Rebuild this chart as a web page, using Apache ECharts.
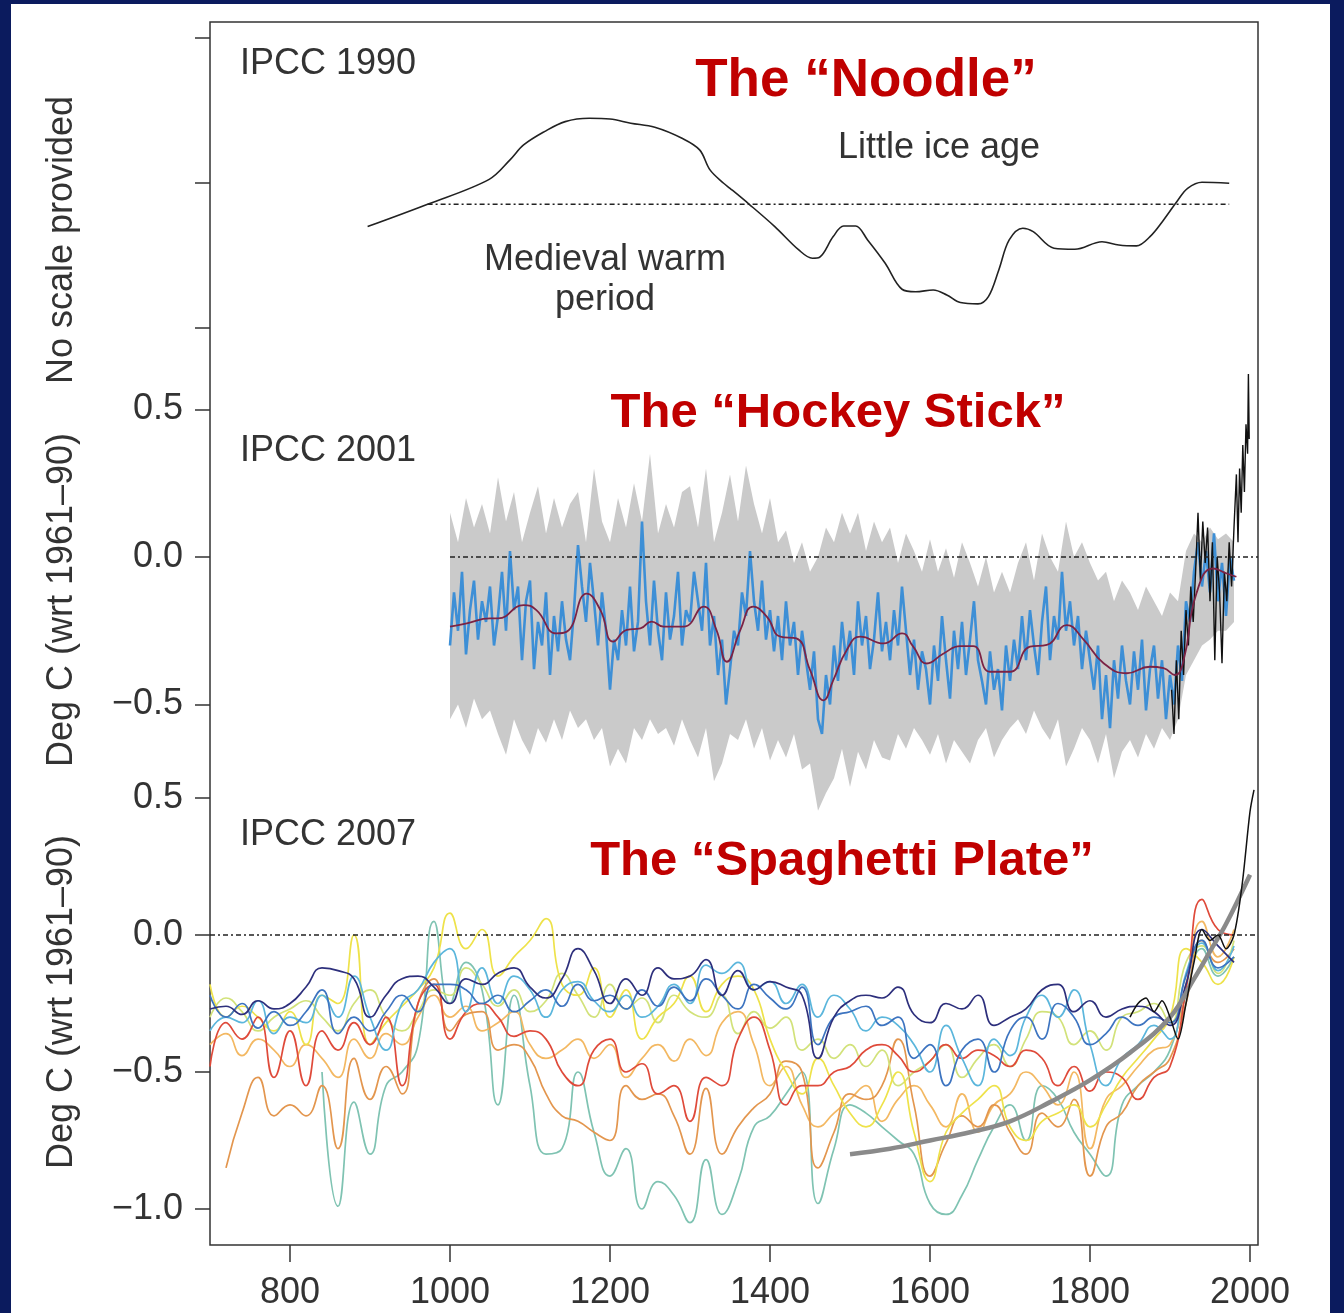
<!DOCTYPE html>
<html><head><meta charset="utf-8">
<script src="https://cdn.jsdelivr.net/npm/echarts@6/dist/echarts.min.js"></script>
<style>html,body{margin:0;padding:0;background:#fff}#c{width:1344px;height:1313px}</style>
</head><body><div id="c"></div>
<script>
// ---------- axis ticks ----------
const xTicks = [800, 1000, 1200, 1400, 1600, 1800, 2000];
const noodleTicks = [-1, 0, 1];
const hockeyTicks = [-0.5, 0, 0.5];
const spagTicks = [-1, -0.5, 0, 0.5];

// ---------- IPCC 1990 "Noodle" (no scale: arbitrary units) ----------
const noodleYears = [897,972,1049,1075,1092,1118,1144,1174,1200,1226,1256,1290,1312,1325,1342,1350,1374,1406,1436,1453,1462,1479,1492,1507,1522,1544,1565,1582,1604,1621,1638,1660,1673,1686,1699,1716,1729,1755,1781,1815,1836,1858,1875,1892,1910,1922,1940,1974];
const noodleValues = [-0.301,-0.147,0.025,0.159,0.262,0.354,0.423,0.446,0.441,0.412,0.384,0.308,0.228,0.090,-0.002,-0.037,-0.147,-0.301,-0.462,-0.519,-0.512,-0.370,-0.297,-0.297,-0.393,-0.554,-0.733,-0.750,-0.738,-0.772,-0.825,-0.834,-0.784,-0.600,-0.393,-0.312,-0.336,-0.450,-0.457,-0.405,-0.428,-0.434,-0.370,-0.255,-0.117,-0.037,0.005,-0.002];
const noodleRefYears = [972, 1974];
const noodleRefLevel = -0.147;

// ---------- IPCC 2001 "Hockey Stick" ----------
const blueStart = 1000, blueStep = 5;
const blueValues = [
 -0.30,-0.12,-0.25,-0.05,-0.33,-0.18,-0.08,-0.28,-0.15,-0.22,
 -0.10,-0.30,-0.20,-0.05,-0.25,0.02,-0.18,-0.10,-0.35,-0.15,
 -0.08,-0.38,-0.22,-0.30,-0.12,-0.40,-0.20,-0.32,-0.15,-0.28,
 -0.35,-0.18,0.04,-0.10,-0.22,-0.02,-0.15,-0.30,-0.12,-0.25,
 -0.45,-0.28,-0.35,-0.18,-0.30,-0.10,-0.32,-0.22,0.12,-0.15,
 -0.30,-0.08,-0.25,-0.35,-0.12,-0.28,-0.20,-0.05,-0.30,-0.18,
 -0.22,-0.05,-0.15,-0.25,-0.02,-0.30,-0.20,-0.40,-0.28,-0.50,
 -0.38,-0.25,-0.30,-0.12,-0.20,0.02,-0.15,-0.25,-0.08,-0.28,
 -0.18,-0.32,-0.20,-0.35,-0.15,-0.30,-0.22,-0.40,-0.25,-0.35,
 -0.45,-0.32,-0.55,-0.60,-0.40,-0.50,-0.30,-0.42,-0.22,-0.35,
 -0.25,-0.40,-0.15,-0.30,-0.20,-0.38,-0.28,-0.12,-0.32,-0.22,
 -0.35,-0.18,-0.30,-0.10,-0.25,-0.40,-0.28,-0.45,-0.32,-0.38,
 -0.50,-0.30,-0.42,-0.20,-0.35,-0.48,-0.25,-0.38,-0.22,-0.40,
 -0.28,-0.15,-0.35,-0.42,-0.50,-0.32,-0.45,-0.38,-0.52,-0.30,
 -0.42,-0.28,-0.38,-0.20,-0.35,-0.18,-0.30,-0.40,-0.22,-0.10,
 -0.35,-0.20,-0.28,-0.05,-0.25,-0.15,-0.30,-0.20,-0.38,-0.25,
 -0.35,-0.45,-0.30,-0.55,-0.40,-0.58,-0.35,-0.48,-0.30,-0.42,
 -0.50,-0.32,-0.45,-0.28,-0.52,-0.38,-0.30,-0.48,-0.35,-0.55,
 -0.40,-0.50,-0.30,-0.42,-0.15,-0.22,-0.05,0.05,-0.10,0.02,
 -0.12,0.08,-0.15,-0.02,-0.20,0.00,-0.08];
const bandStart = 1000, bandStep = 10;
const bandUpper = [
 0.15,0.05,0.20,0.10,0.18,0.08,0.27,0.12,0.22,0.05,
 0.15,0.24,0.08,0.20,0.10,0.18,0.22,0.05,0.30,0.12,
 0.05,0.20,0.10,0.25,0.12,0.35,0.08,0.18,0.10,0.22,
 0.24,0.10,0.30,0.05,0.15,0.28,0.12,0.31,0.18,0.08,
 0.20,0.05,0.09,-0.02,0.05,-0.05,0.00,0.10,0.05,0.15,
 0.08,0.15,0.02,0.12,0.05,0.10,-0.02,0.08,0.02,-0.05,
 0.06,-0.05,0.03,-0.07,0.05,-0.02,-0.10,0.00,-0.12,-0.05,
 -0.12,-0.02,0.05,-0.08,0.08,0.00,-0.05,0.12,0.00,0.05,
 -0.02,-0.08,-0.05,-0.15,-0.08,-0.12,-0.18,-0.10,-0.15,-0.20,
 -0.12,-0.15,0.02,0.08,0.05,0.10,0.06,0.08,0.05];
const bandLower = [
 -0.55,-0.50,-0.58,-0.48,-0.55,-0.52,-0.60,-0.67,-0.55,-0.62,
 -0.67,-0.58,-0.63,-0.55,-0.62,-0.52,-0.58,-0.55,-0.62,-0.58,
 -0.71,-0.65,-0.70,-0.58,-0.62,-0.55,-0.60,-0.58,-0.64,-0.55,
 -0.62,-0.68,-0.58,-0.76,-0.70,-0.60,-0.62,-0.55,-0.65,-0.58,
 -0.69,-0.62,-0.68,-0.60,-0.72,-0.70,-0.86,-0.80,-0.75,-0.65,
 -0.78,-0.66,-0.72,-0.62,-0.68,-0.69,-0.60,-0.65,-0.58,-0.62,
 -0.67,-0.60,-0.70,-0.62,-0.66,-0.70,-0.62,-0.58,-0.68,-0.62,
 -0.58,-0.55,-0.60,-0.52,-0.58,-0.62,-0.55,-0.71,-0.65,-0.58,
 -0.62,-0.70,-0.60,-0.75,-0.66,-0.62,-0.68,-0.60,-0.65,-0.58,
 -0.62,-0.55,-0.40,-0.35,-0.30,-0.28,-0.25,-0.25,-0.22];
const smoothYears = [1000,1021,1050,1060,1092,1108,1133,1146,1171,1188,1204,1221,1238,1252,1267,1292,1317,1333,1346,1363,1379,1396,1413,1433,1450,1467,1479,1496,1513,1542,1565,1579,1596,1617,1638,1654,1675,1700,1725,1746,1771,1792,1817,1846,1875,1892,1906,1917,1933,1954,1971,1983];
const smoothValues = [-0.236,-0.225,-0.208,-0.208,-0.163,-0.180,-0.259,-0.253,-0.124,-0.180,-0.287,-0.247,-0.242,-0.219,-0.236,-0.236,-0.168,-0.247,-0.355,-0.247,-0.168,-0.202,-0.270,-0.276,-0.383,-0.486,-0.418,-0.315,-0.270,-0.293,-0.259,-0.304,-0.361,-0.327,-0.302,-0.302,-0.389,-0.389,-0.304,-0.298,-0.231,-0.280,-0.360,-0.394,-0.372,-0.377,-0.400,-0.350,-0.124,-0.039,-0.056,-0.067];
const instYears2001 = [1902,1905,1908,1911,1914,1917,1920,1923,1926,1929,1932,1935,1938,1941,1944,1947,1950,1953,1956,1959,1962,1965,1968,1971,1974,1977,1980,1983,1985,1987,1989,1991,1993,1995,1997,1998,1999];
const instValues2001 = [-0.45,-0.60,-0.35,-0.55,-0.25,-0.40,-0.18,-0.30,-0.10,-0.22,-0.05,0.15,-0.08,0.12,-0.02,0.10,-0.15,0.05,-0.35,0.00,-0.12,-0.36,-0.05,-0.15,0.05,-0.10,0.10,0.28,0.05,0.30,0.15,0.38,0.22,0.45,0.35,0.62,0.40];
const hockeyRefYears = [1000, 2010];

// ---------- IPCC 2007 "Spaghetti Plate" (every 20 years, 700..2000) ----------
const spagStart = 700, spagStep = 20;
const spagNavy = [
 -0.27,-0.26,-0.29,-0.24,-0.27,-0.25,-0.19,-0.12,-0.13,-0.16,
 -0.30,-0.22,-0.16,-0.15,-0.19,-0.25,-0.16,-0.18,-0.14,-0.12,
 -0.19,-0.23,-0.16,-0.05,-0.13,-0.25,-0.16,-0.22,-0.12,-0.16,
 -0.15,-0.09,-0.22,-0.13,-0.20,-0.17,-0.19,-0.22,-0.45,-0.30,
 -0.24,-0.22,-0.23,-0.19,-0.29,-0.32,-0.25,-0.27,-0.22,-0.33,
 -0.30,-0.27,-0.20,-0.18,-0.28,-0.24,-0.30,-0.27,-0.26,-0.28,
 -0.33,-0.18,0.02,-0.04,-0.10,null];
const spagSteel = [
 -0.22,-0.30,-0.25,-0.34,-0.28,-0.33,-0.28,-0.20,-0.36,-0.30,
 -0.35,-0.28,-0.22,-0.28,-0.18,-0.18,-0.20,-0.25,-0.22,-0.28,
 -0.24,-0.20,-0.26,-0.18,-0.24,-0.22,-0.27,-0.20,-0.26,-0.19,
 -0.24,-0.16,-0.22,-0.27,-0.18,-0.23,-0.27,-0.19,-0.40,-0.30,
 -0.28,-0.26,-0.33,-0.30,-0.45,-0.40,-0.55,-0.42,-0.38,-0.50,
 -0.35,-0.30,-0.38,-0.25,-0.30,-0.40,-0.36,-0.30,-0.33,-0.30,
 -0.32,-0.15,-0.02,-0.12,-0.08,null];
const spagCyan = [
 -0.35,-0.30,-0.32,-0.24,-0.36,-0.30,-0.32,-0.22,-0.30,-0.15,
 -0.30,-0.42,-0.25,-0.20,-0.10,-0.05,-0.28,-0.12,-0.25,-0.15,
 -0.20,-0.30,-0.20,-0.17,-0.24,-0.28,-0.22,-0.30,-0.26,-0.18,
 -0.25,-0.11,-0.14,-0.10,-0.20,-0.17,-0.25,-0.18,-0.30,-0.22,
 -0.27,-0.35,-0.30,-0.33,-0.40,-0.50,-0.33,-0.45,-0.55,-0.38,
 -0.44,-0.30,-0.22,-0.30,-0.20,-0.40,-0.55,-0.45,-0.40,-0.33,
 -0.38,-0.14,-0.03,-0.13,-0.04,null];
const spagTeal = [
 null,null,null,null,null,null,null,-0.50,-0.99,-0.61,
 -0.80,-0.55,-0.50,-0.40,0.05,-0.25,-0.10,-0.20,-0.62,-0.22,
 -0.55,-0.80,-0.78,-0.50,-0.72,-0.88,-0.78,-1.00,-0.90,-0.95,
 -1.05,-0.82,-1.02,-0.90,-0.70,-0.66,-0.58,-0.50,-0.98,-0.78,
 -0.62,-0.65,-0.70,-0.75,-0.80,-0.98,-1.02,-0.95,-0.82,-0.70,
 -0.62,-0.75,-0.55,-0.60,-0.72,-0.80,-0.88,-0.62,-0.55,-0.50,
 -0.42,-0.22,-0.05,-0.15,-0.08,null];
const spagYellow = [
 -0.18,-0.30,-0.26,-0.30,-0.35,-0.28,-0.40,-0.22,-0.25,0.00,
 -0.40,-0.32,-0.26,-0.20,-0.12,0.08,-0.05,0.02,-0.15,-0.08,
 -0.02,0.06,-0.18,-0.22,-0.12,-0.30,-0.20,-0.38,-0.30,-0.25,
 -0.15,-0.28,-0.18,-0.15,-0.20,-0.38,-0.50,-0.58,-0.45,-0.55,
 -0.65,-0.70,-0.62,-0.50,-0.72,-0.90,-0.72,-0.65,-0.60,-0.55,
 -0.70,-0.75,-0.68,-0.65,-0.62,-0.70,-0.62,-0.52,-0.45,-0.38,
 -0.30,-0.05,-0.10,-0.18,-0.08,null];
const spagLime = [
 -0.30,-0.23,-0.28,-0.35,-0.30,-0.27,-0.24,-0.30,-0.35,-0.25,
 -0.20,-0.30,-0.35,-0.28,-0.20,-0.22,-0.12,-0.18,-0.26,-0.20,
 -0.28,-0.24,-0.14,-0.22,-0.30,-0.18,-0.27,-0.23,-0.32,-0.22,
 -0.28,-0.30,-0.22,-0.36,-0.28,-0.34,-0.30,-0.42,-0.38,-0.45,
 -0.40,-0.48,-0.42,-0.55,-0.50,-0.46,-0.40,-0.52,-0.45,-0.40,
 -0.48,-0.38,-0.28,-0.30,-0.40,-0.35,-0.42,-0.30,-0.28,-0.25,
 -0.32,-0.10,-0.04,-0.14,-0.02,null];
const spagRed = [
 -0.48,-0.32,-0.38,-0.30,-0.52,-0.35,-0.55,-0.35,-0.42,-0.32,
 -0.40,-0.30,-0.55,-0.25,-0.18,-0.38,-0.28,-0.25,-0.30,-0.37,
 -0.35,-0.38,-0.50,-0.55,-0.42,-0.38,-0.50,-0.47,-0.58,-0.55,
 -0.68,-0.52,-0.55,-0.38,-0.30,-0.42,-0.62,-0.55,-0.55,-0.50,
 -0.48,-0.42,-0.40,-0.44,-0.50,-0.46,-0.40,-0.45,-0.42,-0.44,
 -0.48,-0.42,-0.45,-0.55,-0.48,-0.57,-0.50,-0.52,-0.60,-0.52,
 -0.48,-0.20,0.13,0.02,0.00,null];
const spagOrange = [
 null,-0.85,-0.65,-0.52,-0.66,-0.62,-0.66,-0.55,-0.78,-0.45,
 -0.60,-0.48,-0.58,-0.25,-0.16,-0.35,-0.29,-0.28,-0.42,-0.40,
 -0.45,-0.58,-0.66,-0.68,-0.72,-0.75,-0.55,-0.60,-0.58,-0.66,
 -0.80,-0.56,-0.80,-0.70,-0.63,-0.58,-0.46,-0.50,-0.85,-0.72,
 -0.58,-0.60,-0.55,-0.38,-0.62,-0.88,-0.76,-0.66,-0.70,-0.62,
 -0.72,-0.80,-0.65,-0.70,-0.60,-0.88,-0.70,-0.65,-0.55,-0.50,
 -0.45,-0.25,-0.02,-0.10,-0.05,null];
const spagApricot = [
 -0.40,-0.36,-0.44,-0.38,-0.42,-0.48,-0.40,-0.45,-0.52,-0.38,
 -0.45,-0.36,-0.40,-0.30,-0.22,-0.30,-0.26,-0.35,-0.32,-0.28,
 -0.40,-0.45,-0.42,-0.38,-0.45,-0.40,-0.52,-0.45,-0.40,-0.46,
 -0.38,-0.44,-0.32,-0.28,-0.40,-0.55,-0.48,-0.62,-0.70,-0.65,
 -0.60,-0.55,-0.68,-0.60,-0.55,-0.62,-0.70,-0.58,-0.72,-0.62,
 -0.58,-0.50,-0.55,-0.62,-0.50,-0.78,-0.60,-0.55,-0.48,-0.42,
 -0.40,-0.18,0.05,-0.08,0.02,null];
const grayTrendYears = [1500,1550,1600,1650,1700,1750,1800,1850,1900,1930,1950,1970,2000];
const grayTrendValues = [-0.80,-0.78,-0.75,-0.72,-0.68,-0.61,-0.53,-0.43,-0.30,-0.16,-0.06,0.04,0.22];
const instYears2007 = [1850,1860,1870,1880,1890,1900,1910,1920,1930,1940,1950,1960,1970,1980,1990,2000,2005];
const instValues2007 = [-0.30,-0.25,-0.23,-0.28,-0.24,-0.30,-0.38,-0.25,-0.10,0.02,-0.02,0.00,-0.05,0.00,0.18,0.45,0.53];
const spagRefYears = [700, 2010];

// ---------- helpers ----------
const zip = (xs, ys) => xs.map((x, i) => [x, ys[i]]);
const stepped = (start, step, ys) => ys.map((v, i) => [start + step * i, v]);

const FONT = '"Liberation Sans", Arial, Helvetica, sans-serif';
const INK = '#333';

const spagSeries = [
  ['Teal', spagTeal, '#7fc3b2'],
  ['Apricot', spagApricot, '#f3b862'],
  ['Orange', spagOrange, '#e3964e'],
  ['Lime', spagLime, '#d2e27a'],
  ['Yellow', spagYellow, '#eee24a'],
  ['Red', spagRed, '#df4a3a'],
  ['Cyan', spagCyan, '#5bb6dc'],
  ['Steel', spagSteel, '#3d74c0'],
  ['Navy', spagNavy, '#2d2f7c']
].map(([name, vals, color]) => ({
  name, type: 'line', xAxisIndex: 3, yAxisIndex: 3, data: stepped(spagStart, spagStep, vals),
  showSymbol: false, smooth: 0.5, lineStyle: { color, width: 1.7 }, z: 3
}));

function dashed(years, level, xi) {
  return { type: 'line', xAxisIndex: xi, yAxisIndex: xi, data: years.map(y => [y, level]), showSymbol: false,
    lineStyle: { color: '#222', width: 1.6, type: [5, 3, 2, 3] }, z: 10, silent: true };
}

const fmt = v => v === 0 ? '0.0' : (v < 0 ? '\u2212' + Math.abs(v).toFixed(1) : v.toFixed(1));

function yAx(grid, min, max, ticks, labels) {
  return {
    gridIndex: grid, type: 'value', min, max,
    axisLine: { show: false }, splitLine: { show: false },
    axisTick: { show: !!ticks, inside: false, length: 15, customValues: ticks || [], lineStyle: { color: INK, width: 1.5 } },
    axisLabel: { show: !!labels, customValues: labels || [], formatter: fmt, fontSize: 36, fontFamily: FONT, color: INK, margin: 27 }
  };
}
function xAx(grid, shown) {
  return {
    gridIndex: grid, type: 'value', min: 700, max: 2010, show: shown,
    axisLine: { show: false }, splitLine: { show: false },
    axisTick: { show: true, inside: false, length: 17, customValues: xTicks, lineStyle: { color: INK, width: 1.5 } },
    axisLabel: { customValues: xTicks, formatter: v => String(v), fontSize: 36, fontFamily: FONT, color: INK, margin: 30 }
  };
}

const chart = echarts.init(document.getElementById('c'), null, { renderer: 'canvas' });
const txt = (x, y, text, opt) => Object.assign({ type: 'text', x, y, silent: true, z: 50,
  style: Object.assign({ text, font: 'normal 36px ' + FONT, fill: INK, textAlign: 'left', textVerticalAlign: 'middle' }, opt || {}) });
const red = (x, y, text, size) => txt(x, y, text, { font: 'bold ' + size + 'px ' + FONT, fill: '#c00000', textAlign: 'center' });

chart.setOption({
  animation: false,
  backgroundColor: '#ffffff',
  grid: [
    { left: 210, top: 22, width: 1048, height: 1223, show: true, borderColor: INK, borderWidth: 1.5, backgroundColor: 'transparent' },
    { left: 210, top: 22, width: 1048, height: 318 },
    { left: 210, top: 335.75, width: 1048, height: 501.5 },
    { left: 210, top: 770.6, width: 1048, height: 474 }
  ],
  xAxis: [xAx(0, true), xAx(1, false), xAx(2, false), xAx(3, false)],
  yAxis: [
    { gridIndex: 0, type: 'value', min: 0, max: 1, show: false },
    yAx(1, -1.083, 1.110, noodleTicks, null),
    yAx(2, -0.95, 0.75, hockeyTicks, hockeyTicks),
    yAx(3, -1.13, 0.6, spagTicks, spagTicks)
  ],
  series: [
    // Noodle
    { type: 'line', xAxisIndex: 1, yAxisIndex: 1, data: zip(noodleYears, noodleValues), showSymbol: false, smooth: 0.35,
      lineStyle: { color: '#222', width: 1.6 }, z: 5 },
    dashed(noodleRefYears, noodleRefLevel, 1),
    // Hockey stick: uncertainty band
    { type: 'custom', xAxisIndex: 2, yAxisIndex: 2, data: [[bandStart, 0]], z: 1, silent: true,
      renderItem: function (params, api) {
        const pts = [];
        for (let i = 0; i < bandUpper.length; i++) pts.push(api.coord([bandStart + bandStep * i, bandUpper[i]]));
        for (let i = bandLower.length - 1; i >= 0; i--) pts.push(api.coord([bandStart + bandStep * i, bandLower[i]]));
        return { type: 'polygon', shape: { points: pts }, style: { fill: '#cacaca' } };
      } },
    { type: 'line', xAxisIndex: 2, yAxisIndex: 2, data: stepped(blueStart, blueStep, blueValues), showSymbol: false,
      lineStyle: { color: '#3d8fd6', width: 2.6 }, z: 2 },
    { type: 'line', xAxisIndex: 2, yAxisIndex: 2, data: zip(instYears2001, instValues2001), showSymbol: false,
      lineStyle: { color: '#111', width: 1.4 }, z: 3 },
    { type: 'line', xAxisIndex: 2, yAxisIndex: 2, data: zip(smoothYears, smoothValues), showSymbol: false, smooth: 0.5,
      lineStyle: { color: '#7b2345', width: 1.8 }, z: 4 },
    dashed(hockeyRefYears, 0, 2),
    // Spaghetti
    ...spagSeries,
    { type: 'line', xAxisIndex: 3, yAxisIndex: 3, data: zip(grayTrendYears, grayTrendValues), showSymbol: false, smooth: 0.4,
      lineStyle: { color: '#8a8a8a', width: 4.5 }, z: 6 },
    { type: 'line', xAxisIndex: 3, yAxisIndex: 3, data: zip(instYears2007, instValues2007), showSymbol: false, smooth: 0.3,
      lineStyle: { color: '#111', width: 1.5 }, z: 7 },
    dashed(spagRefYears, 0, 3)
  ],
  graphic: [
    { type: 'rect', shape: { x: 0, y: 0, width: 11, height: 1313 }, style: { fill: '#0b1b5e' }, z: 100, silent: true },
    { type: 'rect', shape: { x: 0, y: 0, width: 1344, height: 4 }, style: { fill: '#0b1b5e' }, z: 100, silent: true },
    { type: 'rect', shape: { x: 1330, y: 0, width: 14, height: 1313 }, style: { fill: '#0b1b5e' }, z: 100, silent: true },
    txt(240, 64, 'IPCC 1990'),
    txt(240, 451, 'IPCC 2001'),
    txt(240, 835, 'IPCC 2007'),
    txt(838, 148, 'Little ice age'),
    txt(605, 260, 'Medieval warm', { textAlign: 'center' }),
    txt(605, 300, 'period', { textAlign: 'center' }),
    red(866, 81, 'The \u201cNoodle\u201d', 53),
    red(838, 413, 'The \u201cHockey Stick\u201d', 49),
    red(842, 861, 'The \u201cSpaghetti Plate\u201d', 49),
    Object.assign(txt(62, 240, 'No scale provided', { textAlign: 'center' }), { rotation: Math.PI / 2 }),
    Object.assign(txt(62, 600, 'Deg C (wrt 1961\u201390)', { textAlign: 'center' }), { rotation: Math.PI / 2 }),
    Object.assign(txt(62, 1002, 'Deg C (wrt 1961\u201390)', { textAlign: 'center' }), { rotation: Math.PI / 2 })
  ]
});
</script></body></html>
